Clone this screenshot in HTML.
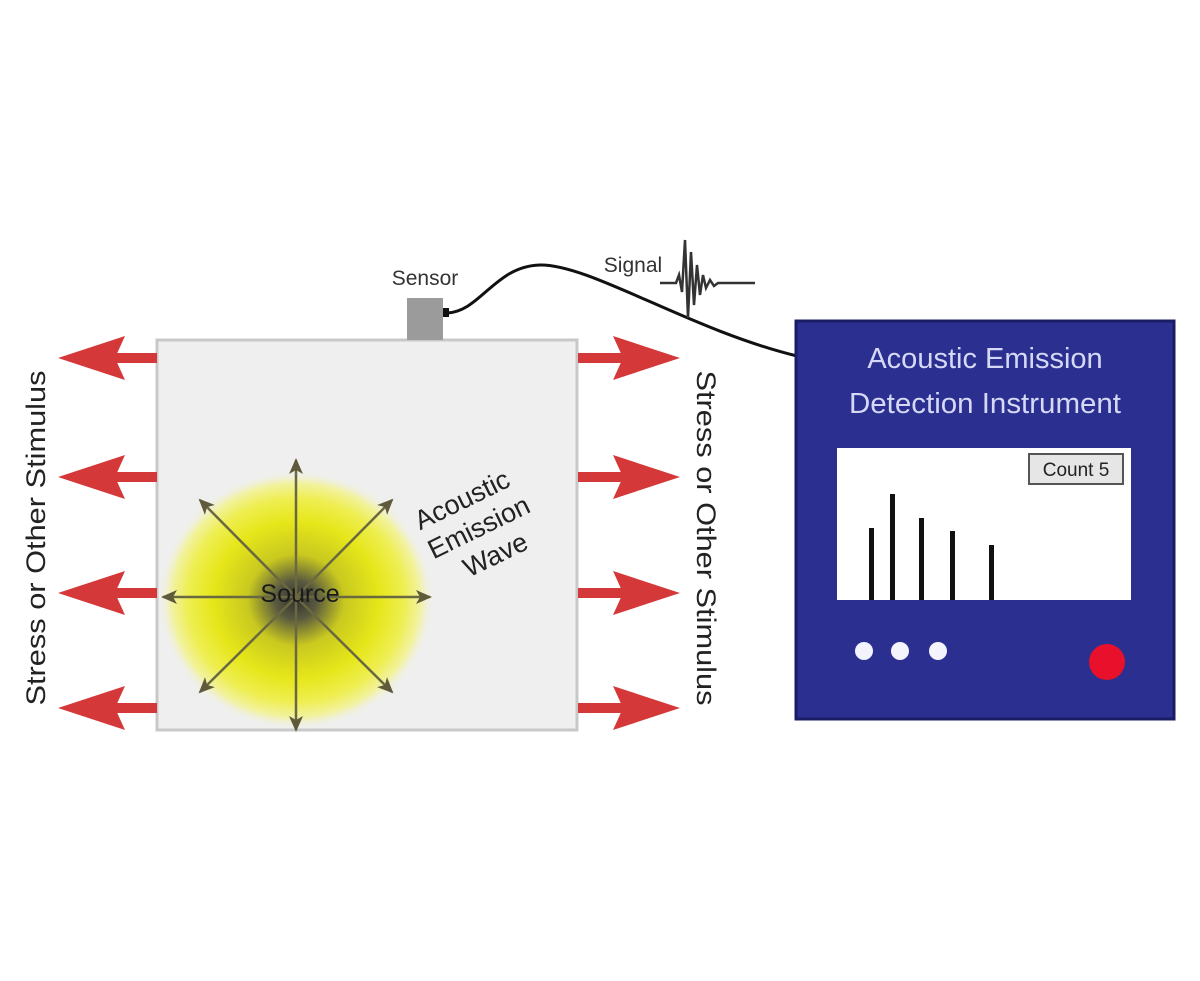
<!DOCTYPE html>
<html><head><meta charset="utf-8"><style>
html,body{margin:0;padding:0;background:#fff;}
svg{display:block;}
text{font-family:"Liberation Sans",sans-serif;}
</style></head><body>
<svg width="1200" height="981" viewBox="0 0 1200 981" xmlns="http://www.w3.org/2000/svg">
<defs>
<radialGradient id="glow" cx="0.5" cy="0.5" r="0.5">
<stop offset="0" stop-color="#303030"/>
<stop offset="0.15" stop-color="#5a5a40"/>
<stop offset="0.35" stop-color="#c8c820"/>
<stop offset="0.6" stop-color="#e6e61a"/>
<stop offset="0.78" stop-color="#eeee50"/>
<stop offset="0.9" stop-color="#f2f2a0"/>
<stop offset="1" stop-color="#efefef" stop-opacity="0"/>
</radialGradient>
<marker id="ah2" markerWidth="16" markerHeight="16" refX="14" refY="8" orient="auto" markerUnits="userSpaceOnUse" viewBox="0 0 16 16">
<path d="M0,1 L16,8 L0,15 L4,8 Z" fill="#5e5a3a"/>
</marker>
</defs>
<rect x="0" y="0" width="1200" height="981" fill="#fff"/>

<rect x="157" y="340" width="420" height="390" fill="#efefef" stroke="#c8c8c8" stroke-width="3"/>
<ellipse cx="296" cy="600" rx="138" ry="130" fill="url(#glow)"/>
<g stroke="#6a6840" stroke-width="2.5" fill="none">
<line x1="296" y1="597" x2="296" y2="460" marker-end="url(#ah2)"/>
<line x1="296" y1="597" x2="296" y2="730" marker-end="url(#ah2)"/>
<line x1="296" y1="597" x2="163" y2="597" marker-end="url(#ah2)"/>
<line x1="296" y1="597" x2="430" y2="597" marker-end="url(#ah2)"/>
<line x1="296" y1="597" x2="200" y2="500" marker-end="url(#ah2)"/>
<line x1="296" y1="597" x2="392" y2="500" marker-end="url(#ah2)"/>
<line x1="296" y1="597" x2="200" y2="692" marker-end="url(#ah2)"/>
<line x1="296" y1="597" x2="392" y2="692" marker-end="url(#ah2)"/>
</g>
<text x="300" y="602" font-size="25" text-anchor="middle" fill="#1a1a1a">Source</text>
<g transform="translate(466,508) rotate(-26)" fill="#222" font-size="27" text-anchor="middle">
<text x="0" y="0">Acoustic</text>
<text x="3" y="32">Emission</text>
<text x="6" y="64">Wave</text>
</g>

<rect x="407" y="298" width="36" height="42" fill="#9b9b9b"/>
<rect x="443" y="308" width="6" height="9" fill="#111"/>
<text x="425" y="285" font-size="21" text-anchor="middle" fill="#333">Sensor</text>

<path d="M447,313 C480,312 495,266 540,265 C590,264 690,330 797,356" fill="none" stroke="#111" stroke-width="3"/>

<text x="633" y="272" font-size="21" text-anchor="middle" fill="#333">Signal</text>
<path d="M660,283 L676,283 L679,275 L682,292 L685,240 L688,318 L691,252 L694,305 L697,265 L700,295 L703,275 L706,288 L710,280 L714,286 L718,283 L755,283" fill="none" stroke="#333" stroke-width="2.5"/>

<g fill="#d43838">
<g transform="translate(0,358)"><rect x="110" y="-5" width="47" height="10"/><path d="M58,0 L125,-22 L115,0 L125,22 Z"/></g>
<g transform="translate(0,477)"><rect x="110" y="-5" width="47" height="10"/><path d="M58,0 L125,-22 L115,0 L125,22 Z"/></g>
<g transform="translate(0,593)"><rect x="110" y="-5" width="47" height="10"/><path d="M58,0 L125,-22 L115,0 L125,22 Z"/></g>
<g transform="translate(0,708)"><rect x="110" y="-5" width="47" height="10"/><path d="M58,0 L125,-22 L115,0 L125,22 Z"/></g>
<g transform="translate(0,358)"><rect x="578" y="-5" width="50" height="10"/><path d="M680,0 L613,-22 L623,0 L613,22 Z"/></g>
<g transform="translate(0,477)"><rect x="578" y="-5" width="50" height="10"/><path d="M680,0 L613,-22 L623,0 L613,22 Z"/></g>
<g transform="translate(0,593)"><rect x="578" y="-5" width="50" height="10"/><path d="M680,0 L613,-22 L623,0 L613,22 Z"/></g>
<g transform="translate(0,708)"><rect x="578" y="-5" width="50" height="10"/><path d="M680,0 L613,-22 L623,0 L613,22 Z"/></g>
</g>

<text transform="translate(45,538) rotate(-90)" font-size="27" text-anchor="middle" textLength="335" lengthAdjust="spacingAndGlyphs" fill="#222">Stress or Other Stimulus</text>
<text transform="translate(697,538) rotate(90)" font-size="27" text-anchor="middle" textLength="335" lengthAdjust="spacingAndGlyphs" fill="#222">Stress or Other Stimulus</text>

<rect x="796" y="321" width="378" height="398" fill="#2b2f8f" stroke="#1a1d66" stroke-width="3"/>
<text x="985" y="368" font-size="29" text-anchor="middle" fill="#d6d9f6">Acoustic Emission</text>
<text x="985" y="413" font-size="29" text-anchor="middle" fill="#d6d9f6" textLength="272" lengthAdjust="spacingAndGlyphs">Detection Instrument</text>
<rect x="837" y="448" width="294" height="152" fill="#fff"/>
<rect x="1029" y="454" width="94" height="30" fill="#e6e6e6" stroke="#555" stroke-width="2"/>
<text x="1076" y="476" font-size="19" text-anchor="middle" fill="#222">Count 5</text>
<g fill="#111">
<rect x="869" y="528" width="5" height="72"/>
<rect x="890" y="494" width="5" height="106"/>
<rect x="919" y="518" width="5" height="82"/>
<rect x="950" y="531" width="5" height="69"/>
<rect x="989" y="545" width="5" height="55"/>
</g>
<g fill="#f4f4ff">
<circle cx="864" cy="651" r="9"/>
<circle cx="900" cy="651" r="9"/>
<circle cx="938" cy="651" r="9"/>
</g>
<circle cx="1107" cy="662" r="18" fill="#e8102a"/>
</svg>
</body></html>
